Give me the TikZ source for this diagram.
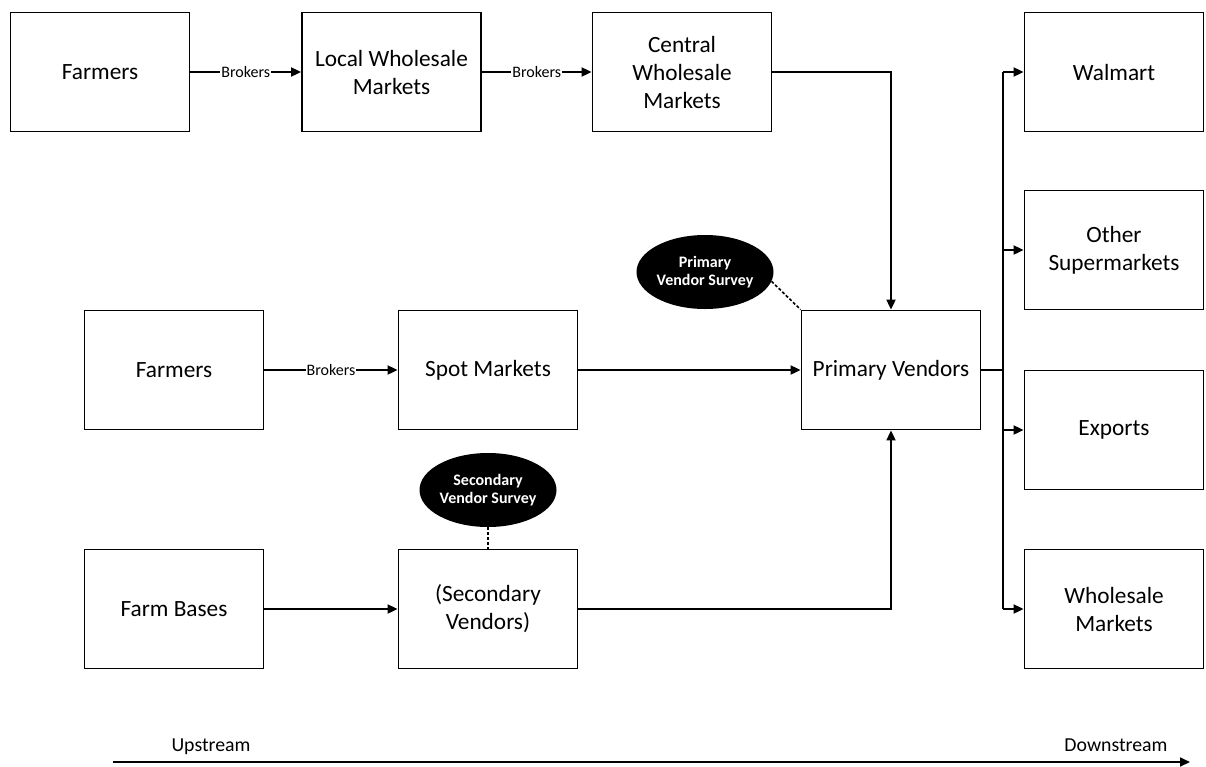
\documentclass[tikz,border=0pt]{standalone}
\usepackage{fontspec}
\setmainfont{Carlito}
\usetikzlibrary{arrows.meta,shapes.geometric}
\begin{document}
\begin{tikzpicture}[x=1pt,y=-1pt,
  box/.style={draw, line width=1.8pt, minimum width=179pt, minimum height=119pt, inner sep=0pt, align=center, font=\fontsize{23.3}{28}\selectfont},
  survey/.style={ellipse, fill=black, text=white, minimum width=137pt, minimum height=74pt, inner sep=0pt, align=center, font=\bfseries\fontsize{16}{18.5}\selectfont},
  conn/.style={line width=1.8pt, -{Triangle[length=10pt,width=9pt]}},
  plain/.style={line width=1.8pt},
  lbl/.style={fill=white, inner sep=1pt, font=\fontsize{16}{18}\selectfont},
  survlink/.style={line width=1.6pt, dash pattern=on 3pt off 2pt},
  flow/.style={font=\fontsize{19.8}{22}\selectfont, inner sep=0pt, anchor=base},
]
\useasboundingbox (0,0) rectangle (1206,766);
\node[box] (f1) at (100,72) {Farmers};
\node[box] (lwm) at (391.5,72) {Local Wholesale\\Markets};
\node[box] (cwm) at (682,72) {Central\\Wholesale\\Markets};
\node[box] (wal) at (1114,72) {Walmart};
\node[box] (osm) at (1114,250) {Other\\Supermarkets};
\node[box] (exp) at (1114,430) {Exports};
\node[box] (whm) at (1114,609) {Wholesale\\Markets};
\node[box] (f2) at (174,370) {Farmers};
\node[box] (spot) at (488,370) {Spot Markets};
\node[box] (pv) at (891,370) {Primary Vendors};
\node[box] (fb) at (174,609) {Farm Bases};
\node[box] (sv) at (488,609) {(Secondary\\Vendors)};
\node[survey] (pvs) at (705,272) {Primary\\Vendor Survey};
\node[survey] (svs) at (488,490) {Secondary\\Vendor Survey};

\draw[conn] (f1) -- node[lbl]{Brokers} (lwm);
\draw[conn] (lwm) -- node[lbl]{Brokers} (cwm);
\draw[conn] (cwm.east) -| (pv.north);
\draw[conn] (f2) -- node[lbl]{Brokers} (spot);
\draw[conn] (spot) -- (pv);
\draw[conn] (fb) -- (sv);
\draw[conn] (sv.east) -| (pv.south);
\coordinate (fork) at (1003,370);
\draw[plain] (pv.east) -- (fork);
\draw[plain] (fork |- wal.west) -- (fork |- whm.west);
\foreach \t in {wal,osm,exp,whm} \draw[conn] (fork |- \t.west) -- (\t.west);
\draw[survlink] (pvs.-8) -- (pv.north west);
\draw[survlink] (svs.south) -- (sv.north);

\coordinate (us) at (113,762);
\coordinate (ds) at (1190,762);
\draw[conn] (us) -- (ds);
\node[flow] (up) at (211,751) {Upstream};
\node[flow] (down) at (1116,751) {Downstream};
\end{tikzpicture}
\end{document}
